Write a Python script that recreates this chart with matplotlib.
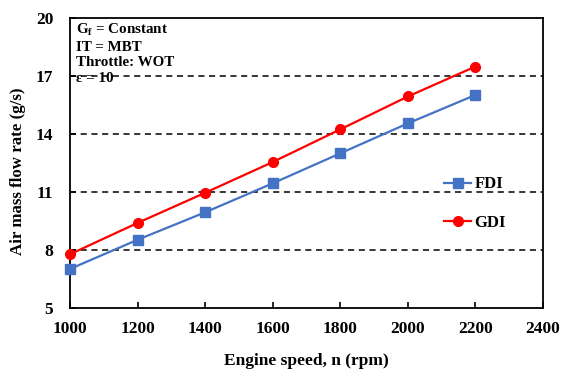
import matplotlib
matplotlib.use("Agg")
import matplotlib.pyplot as plt

# Air mass flow vs engine speed for the two injection systems
speed = [1000, 1200, 1400, 1600, 1800, 2000, 2200]
fdi_flow = [7.02, 8.53, 9.95, 11.45, 13.0, 14.55, 16.02]
gdi_flow = [7.78, 9.4, 10.96, 12.55, 14.24, 15.94, 17.49]

x_ticks = [1000, 1200, 1400, 1600, 1800, 2000, 2200, 2400]
y_ticks = [5, 8, 11, 14, 17, 20]
grid_levels = [8, 11, 14, 17]

plt.rcParams["font.family"] = ["Liberation Serif", "DejaVu Serif"]
plt.rcParams["font.weight"] = "bold"
plt.rcParams["mathtext.fontset"] = "custom"
plt.rcParams["mathtext.rm"] = "Liberation Serif:bold"
plt.rcParams["mathtext.it"] = "Liberation Serif:bold"
plt.rcParams["mathtext.bf"] = "Liberation Serif:bold"

fig = plt.figure(figsize=(5.66, 3.69), dpi=100)
ax = fig.add_axes([0.1237, 0.1653, 0.8357, 0.7859])

for g in grid_levels:
    ax.axhline(g, color="black", linestyle=(0, (4, 3)), linewidth=1.1, zorder=0)

ax.plot(speed, fdi_flow, color="#4472C4", marker="s", markersize=7,
        linewidth=1.6, label="FDI", clip_on=False, zorder=3)
ax.plot(speed, gdi_flow, color="#FF0000", marker="o", markersize=7,
        linewidth=1.6, label="GDI", clip_on=False, zorder=4)

ax.set_xlim(1000, 2400)
ax.set_ylim(5, 20)
ax.set_xticks(x_ticks)
ax.set_yticks(y_ticks)
ax.tick_params(direction="in", length=4, width=1.2, labelsize=12.5)
ax.tick_params(axis="x", pad=9)
ax.tick_params(axis="y", pad=12)
for lab in ax.get_xticklabels() + ax.get_yticklabels():
    lab.set_fontweight("bold")
for spine in ax.spines.values():
    spine.set_linewidth(1.3)

ax.set_xlabel("Engine speed, n (rpm)", fontsize=12.5, fontweight="bold", labelpad=12)
ax.set_ylabel("Air mass flow rate (g/s)", fontsize=12.2, fontweight="bold")
ax.yaxis.set_label_coords(-0.092, 0.47)

ax.text(0.012, 0.985,
        "G$_\\mathrm{f}$ = Constant\nIT = MBT\nThrottle: WOT\nε = 10",
        transform=ax.transAxes, ha="left", va="top", fontsize=10.8,
        fontweight="bold", linespacing=1.25)

ax.legend(loc="center left", bbox_to_anchor=(0.76, 0.36), frameon=False,
          handlelength=1.6, handletextpad=0.2, labelspacing=1.35,
          prop={"weight": "bold", "size": 12})

fig.savefig("out.png", dpi=100)
